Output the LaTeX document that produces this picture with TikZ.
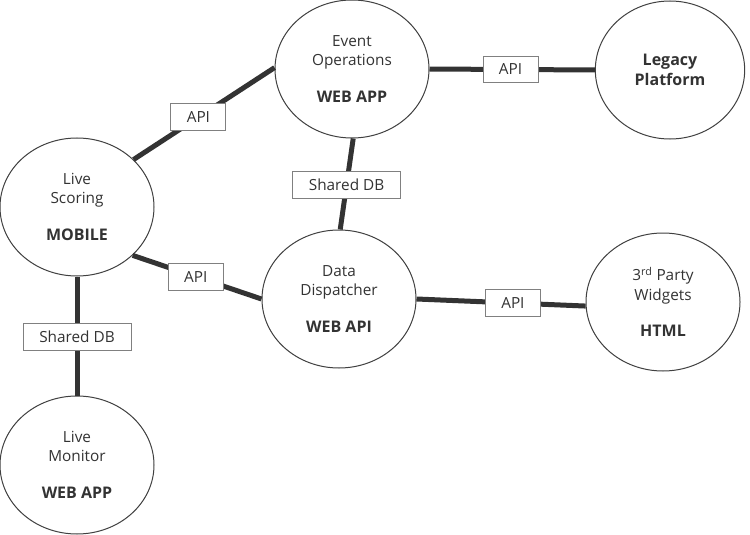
\documentclass[tikz,border=0pt]{standalone}
\usepackage{fontspec}
\setmainfont{Open Sans}
\usetikzlibrary{shapes.geometric}
\definecolor{ink}{HTML}{333333}
\definecolor{rim}{HTML}{404040}
\definecolor{boxrim}{HTML}{808080}
\begin{document}
\begin{tikzpicture}[x=0.75pt,y=-0.75pt,
  sys/.style={ellipse, draw=rim, line width=0.75pt, fill=white,
    minimum width=115.5pt, minimum height=103.5pt, inner sep=0pt,
    align=center, text=ink, font=\fontsize{11.5}{14.5}\selectfont},
  link/.style={draw=ink, line width=3.75pt},
  lbl/.style={draw=boxrim, line width=0.75pt, fill=white, text=ink,
    font=\fontsize{11.5}{13}\selectfont, minimum height=20pt, inner sep=1pt},
  apibox/.style={lbl, minimum width=41.25pt},
  dbbox/.style={lbl, minimum width=81pt},
  tag/.style={font=\fontsize{12}{14.5}\selectfont\bfseries}]
\useasboundingbox (0,0) rectangle (750,535);
\node[sys] (eo) at (352,69) {Event\\Operations\\[13pt]{\fontsize{12}{14}\selectfont\bfseries WEB APP}};
\node[sys, minimum width=112pt, font=\fontsize{12}{14.5}\selectfont\bfseries] (lp) at (670,70) {Legacy\\Platform};
\node[sys] (ls) at (77,207) {Live\\Scoring\\[13pt]{\fontsize{12}{14}\selectfont\bfseries MOBILE}};
\node[sys] (dd) at (339,299) {Data\\Dispatcher\\[13pt]{\fontsize{12}{14}\selectfont\bfseries WEB API}};
\node[sys] (tp) at (663,302) {3\textsuperscript{rd} Party\\Widgets\\[13pt]{\fontsize{12}{14}\selectfont\bfseries HTML}};
\node[sys] (lm) at (77,465) {Live\\Monitor\\[13pt]{\fontsize{12}{14}\selectfont\bfseries WEB APP}};
\draw[link] (ls.40) -- node[apibox, pos=0.46] {API} (eo.179);
\draw[link] (eo.0) -- node[apibox, pos=0.49] {API} (lp.180);
\draw[link] (eo.271) -- node[dbbox, pos=0.51] {Shared DB} (dd.89);
\draw[link] (ls.319) -- node[apibox, pos=0.49] {API} (dd.180);
\draw[link] (dd.0) -- node[apibox, pos=0.57] {API} (tp.183);
\draw[link] (ls.270) -- node[dbbox, pos=0.51] {Shared DB} (lm.90);
\end{tikzpicture}
\end{document}
